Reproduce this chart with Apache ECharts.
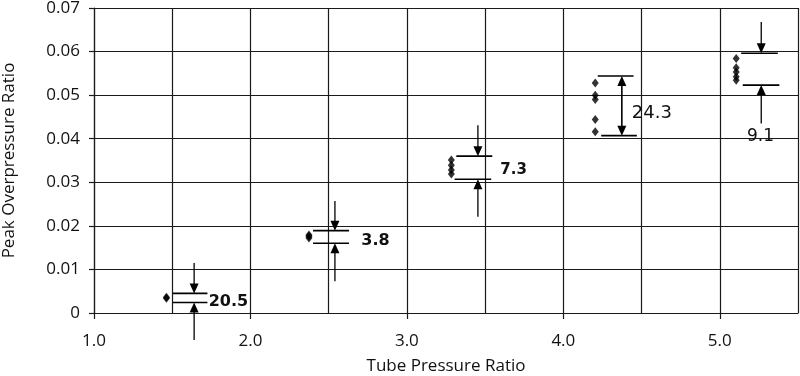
<!DOCTYPE html>
<html><head><meta charset="utf-8">
<script src="https://cdn.jsdelivr.net/npm/echarts@6/dist/echarts.min.js"></script>
<style>html,body{margin:0;padding:0;background:#fff}#c{width:800px;height:376px}</style>
</head><body><div id="c"></div>
<script>
// ---- data ----
const xTickValues = [1, 2, 3, 4, 5];
const yTickValues = [0, 0.01, 0.02, 0.03, 0.04, 0.05, 0.06, 0.07];
const groupX = [1.463, 2.374, 3.284, 4.204, 5.105];
const groupY1 = [0.0034, 0.0036];
const groupY2 = [0.0172, 0.0176, 0.0179];
const groupY3 = [0.0351, 0.0339, 0.0328, 0.0319];
const groupY4 = [0.0528, 0.0500, 0.0490, 0.0444, 0.0416];
const groupY5 = [0.0584, 0.0563, 0.0553, 0.0542, 0.0534];
const spreadLabels = ['20.5', '3.8', '7.3', '24.3', '9.1'];
const upperY = [0.0045, 0.0189, 0.0360, 0.0544, 0.0596];
const lowerY = [0.0024, 0.0160, 0.0307, 0.0407, 0.0523];
const upperXFrom = [1.505, 2.40, 3.316, 4.22, 5.137];
const upperXTo = [1.725, 2.63, 3.546, 4.449, 5.371];
const lowerXFrom = [1.505, 2.40, 3.305, 4.242, 5.147];
const lowerXTo = [1.725, 2.63, 3.539, 4.47, 5.381];
const arrowX = [1.64, 2.54, 3.454, 4.374, 5.265];
const topTailY = [0.0115, 0.0257, 0.0431, null, 0.0668];
const bottomTailY = [-0.0062, 0.0073, 0.0221, null, 0.0435];
const labelX = [1.733, 2.709, 3.597, 4.438, 5.26];
const labelY = [0.0026, 0.0166, 0.0328, 0.0458, 0.0404];

// ---- styles ----
const labelStyles = [
  {w: 'bold', s: 16, a: 'left'},
  {w: 'bold', s: 16, a: 'left'},
  {w: 'bold', s: 15, a: 'left'},
  {w: 'normal', s: 18, a: 'left'},
  {w: 'normal', s: 17, a: 'center'}
];
const FONT = '"Open Sans", "Noto Sans", sans-serif';
const INK = '#111';
const GRID = '#1a1a1a';

const groups = [groupY1, groupY2, groupY3, groupY4, groupY5];
const points = [];
groups.forEach((ys, i) => ys.forEach(y => points.push([groupX[i], y])));

function renderItem(params, api) {
  const i = api.value(2);
  const HW = 4.5, HL = 10;
  const ln = (x1, y1, x2, y2, w) => ({type: 'line', shape: {x1, y1, x2, y2}, style: {stroke: '#000', lineWidth: w}});
  const U0 = api.coord([upperXFrom[i], upperY[i]]), U1 = api.coord([upperXTo[i], upperY[i]]);
  const L0 = api.coord([lowerXFrom[i], lowerY[i]]), L1 = api.coord([lowerXTo[i], lowerY[i]]);
  const ax = api.coord([arrowX[i], upperY[i]])[0];
  const yU = U0[1], yL = L0[1];
  const headDown = tip => ({type: 'polygon', shape: {points: [[ax - HW, tip - HL], [ax + HW, tip - HL], [ax, tip]]}, style: {fill: '#000'}});
  const headUp = tip => ({type: 'polygon', shape: {points: [[ax - HW, tip + HL], [ax + HW, tip + HL], [ax, tip]]}, style: {fill: '#000'}});
  const children = [ln(U0[0], yU, U1[0], yU, 1.6), ln(L0[0], yL, L1[0], yL, 1.6)];
  if (topTailY[i] != null) {
    const yt = api.coord([arrowX[i], topTailY[i]])[1];
    const yb = api.coord([arrowX[i], bottomTailY[i]])[1];
    children.push(ln(ax, yt, ax, yU - HL + 1, 1.3), headDown(yU));
    children.push(ln(ax, yb, ax, yL + HL - 1, 1.3), headUp(yL));
  } else {
    children.push(ln(ax, yU + HL - 1, ax, yL - HL + 1, 1.6), headUp(yU), headDown(yL));
  }
  const lp = api.coord([labelX[i], labelY[i]]);
  const st = labelStyles[i];
  children.push({type: 'text', x: lp[0], y: lp[1], style: {
    text: spreadLabels[i], fill: '#111', fontFamily: '"DejaVu Sans", sans-serif',
    fontSize: st.s, fontWeight: st.w, align: st.a, verticalAlign: 'middle'}});
  return {type: 'group', children};
}

const chart = echarts.init(document.getElementById('c'), null, {renderer: 'canvas'});
chart.setOption({
  animation: false,
  backgroundColor: '#fff',
  grid: {left: 94, right: 2, top: 8, bottom: 63, containLabel: false, outerBoundsMode: 'none'},
  xAxis: [{
    type: 'value', position: 'bottom', min: 1, max: 5.5,
    name: 'Tube Pressure Ratio', nameLocation: 'middle', nameGap: 45,
    nameTextStyle: {fontFamily: FONT, fontSize: 17, color: INK},
    axisLine: {show: true, lineStyle: {color: GRID, width: 1.2}},
    axisTick: {show: true, length: 6, customValues: xTickValues, lineStyle: {color: GRID, width: 1.2}},
    axisLabel: {customValues: xTickValues, margin: 20, fontFamily: FONT, fontSize: 17, color: INK,
      formatter: v => v.toFixed(1)},
    splitLine: {show: false}
  }, {
    type: 'value', position: 'top', min: 1, max: 5.5, interval: 0.5,
    axisLine: {show: false}, axisTick: {show: false}, axisLabel: {show: false},
    splitLine: {show: true, lineStyle: {color: GRID, width: 1.2}}
  }],
  yAxis: {
    type: 'value', min: 0, max: 0.07, interval: 0.01,
    name: 'Peak Overpressure Ratio', nameLocation: 'middle', nameGap: 76,
    nameTextStyle: {fontFamily: FONT, fontSize: 17, color: INK},
    axisLine: {show: true, lineStyle: {color: GRID, width: 1.2}},
    axisTick: {show: true, length: 5, lineStyle: {color: GRID, width: 1.2}},
    axisLabel: {customValues: yTickValues, margin: 14, fontFamily: FONT, fontSize: 17, color: INK,
      formatter: v => (v === 0 ? '0' : v.toFixed(2))},
    splitLine: {show: true, lineStyle: {color: GRID, width: 1.2}}
  },
  series: [{
    type: 'scatter', xAxisIndex: 0, data: points, symbol: 'diamond', symbolSize: [7, 9],
    itemStyle: {color: '#000'}, z: 4
  }, {
    type: 'custom', xAxisIndex: 0, clip: false, renderItem,
    data: arrowX.map((x, i) => [x, upperY[i], i]), encode: {x: 0, y: 1}, z: 5
  }]
});
</script>
</body></html>
